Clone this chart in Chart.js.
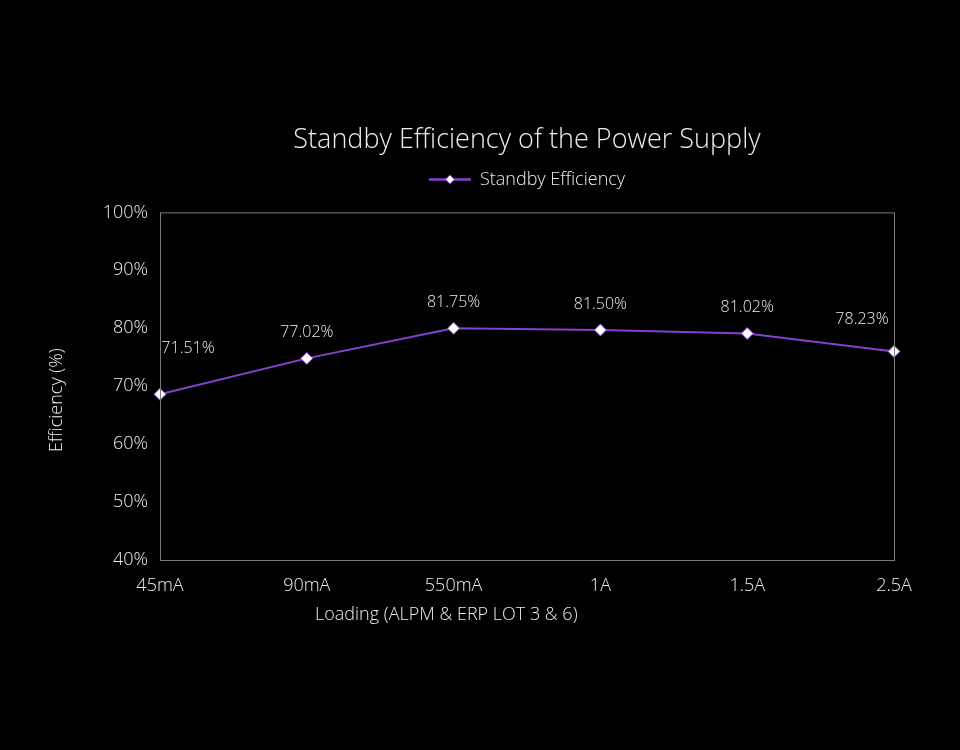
<!DOCTYPE html>
<html>
<head>
<meta charset="utf-8">
<title>Standby Efficiency</title>
<script src="https://cdn.jsdelivr.net/npm/chart.js@4"></script>
<style>
  html, body { margin: 0; padding: 0; background: #000; }
  #wrap { width: 960px; height: 750px; }
</style>
</head>
<body>
<div id="wrap"><canvas id="myChart"></canvas></div>
<script>
// data
const loads = ['45mA', '90mA', '550mA', '1A', '1.5A', '2.5A'];
const efficiency = [68.6, 74.8, 80.0, 79.7, 79.1, 76.0];
const valueLabels = ['71.51%', '77.02%', '81.75%', '81.50%', '81.02%', '78.23%'];
const yTicks = [40, 50, 60, 70, 80, 90, 100];

const textColor = '#ececec';
const lineColor = '#8b3fd1';
const fontFamily = '"Open Sans", Lato, sans-serif';

// border on all four sides of the plot, axis titles, value labels, legend diamond
const extras = {
    id: 'extras',
    beforeInit(chart) {
        // extra room between legend and plot
        const origFit = chart.legend.fit;
        chart.legend.fit = function() {
            origFit.call(chart.legend);
            this.height += 14;
        };
    },
    afterDraw(chart) {
        const ctx = chart.ctx;
        const a = chart.chartArea;
        ctx.save();
        ctx.strokeStyle = '#7a7a7a';
        ctx.lineWidth = 1;
        ctx.strokeRect(a.left + 0.5, a.top + 0.5, a.right - a.left, a.bottom - a.top);

        ctx.fillStyle = textColor;
        ctx.font = '300 18px ' + fontFamily;
        ctx.textAlign = 'center';
        ctx.textBaseline = 'middle';
        ctx.fillText('Loading (ALPM & ERP LOT 3 & 6)', a.left + (a.right - a.left) * 0.39, 615);

        ctx.save();
        ctx.translate(57, (a.top + a.bottom) / 2 + 14);
        ctx.rotate(-Math.PI / 2);
        ctx.fillText('Efficiency (%)', 0, 0);
        ctx.restore();

        // value labels above each point
        ctx.font = '300 16px ' + fontFamily;
        const pts = chart.getDatasetMeta(0).data;
        pts.forEach(function(p, i) {
            let x = p.x, y = p.y - 26;
            if (i === 0) { x = p.x + 28; y = p.y - 46; }
            if (i === pts.length - 1) { x = p.x - 32; y = p.y - 32; }
            ctx.fillText(valueLabels[i], x, y);
        });

        // diamond on the legend line
        const box = chart.legend.legendHitBoxes[0];
        if (box) {
            const cx = box.left + 21, cy = box.top + box.height / 2;
            ctx.fillStyle = '#fff';
            ctx.strokeStyle = lineColor;
            ctx.beginPath();
            ctx.moveTo(cx, cy - 4.5);
            ctx.lineTo(cx + 4.5, cy);
            ctx.lineTo(cx, cy + 4.5);
            ctx.lineTo(cx - 4.5, cy);
            ctx.closePath();
            ctx.fill();
            ctx.stroke();
        }
        ctx.restore();
    }
};

const ctx = document.getElementById('myChart').getContext('2d');
window.myChart = new Chart(ctx, {
    type: 'line',
    data: {
        labels: loads,
        datasets: [{
            label: 'Standby Efficiency',
            data: efficiency,
            borderColor: lineColor,
            backgroundColor: lineColor,
            borderWidth: 2,
            pointStyle: 'rectRot',
            pointRadius: 6,
            pointBackgroundColor: '#ffffff',
            pointBorderColor: lineColor,
            pointBorderWidth: 1,
            tension: 0
        }]
    },
    options: {
        responsive: true,
        maintainAspectRatio: false,
        animation: false,
        layout: { padding: { left: 0, right: 66, top: 0, bottom: 0 } },
        plugins: {
            title: {
                display: true,
                fullSize: false,
                text: 'Standby Efficiency of the Power Supply',
                color: textColor,
                font: { family: fontFamily, size: 27, weight: '300' },
                padding: { top: 124, bottom: 4 }
            },
            legend: {
                display: true,
                fullSize: false,
                labels: {
                    color: textColor,
                    font: { family: fontFamily, size: 18, weight: '300' },
                    usePointStyle: true,
                    pointStyle: 'line',
                    pointStyleWidth: 42,
                    boxWidth: 42,
                    padding: 10,
                    generateLabels: function(chart) {
                        const items = Chart.defaults.plugins.legend.labels.generateLabels(chart);
                        items.forEach(function(it) {
                            it.strokeStyle = lineColor;
                            it.lineWidth = 2.5;
                            it.pointStyle = 'line';
                        });
                        return items;
                    }
                }
            },
            tooltip: { enabled: false }
        },
        scales: {
            x: {
                offset: false,
                grid: { display: false, drawTicks: false },
                border: { display: false },
                ticks: {
                    color: textColor,
                    font: { family: fontFamily, size: 18, weight: '300' },
                    padding: 15,
                    maxRotation: 0
                },
                afterFit: function(scale) { scale.height = 190; }
            },
            y: {
                min: 40,
                max: 100,
                grid: { display: false, drawTicks: false },
                border: { display: false },
                afterBuildTicks: function(scale) {
                    scale.ticks = yTicks.map(function(v) { return { value: v }; });
                },
                ticks: {
                    color: textColor,
                    font: { family: fontFamily, size: 18, weight: '300' },
                    padding: 12,
                    callback: function(v) { return v + '%'; }
                },
                afterFit: function(scale) { scale.width = 160; }
            }
        }
    },
    plugins: [extras]
});
</script>
</body>
</html>
